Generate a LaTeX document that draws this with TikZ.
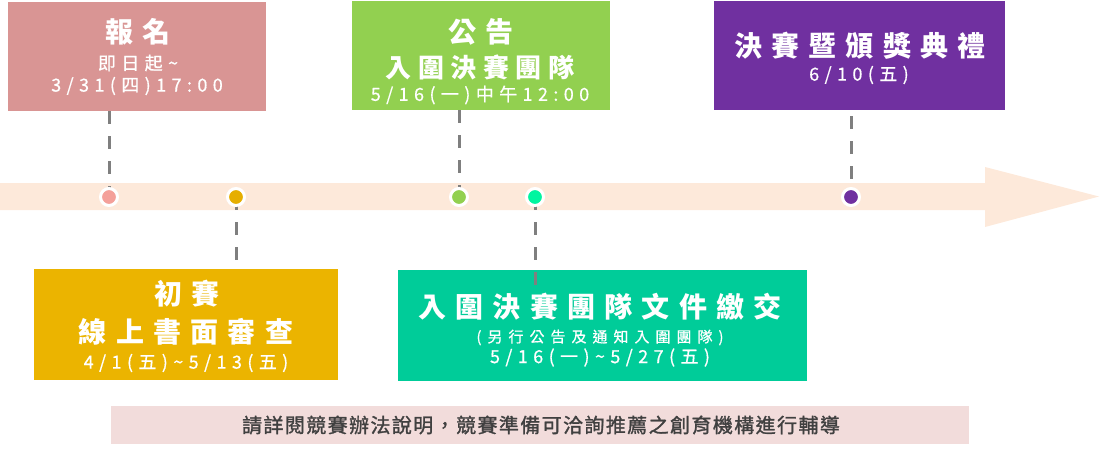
\documentclass[tikz,border=0pt]{standalone}
\usepackage{fontspec}
\usepackage{xcolor}
\newfontfamily\cjktitle[LetterSpace=33]{Noto Sans CJK TC}
\newfontfamily\cjkmid[LetterSpace=25]{Noto Sans CJK TC}
\newfontfamily\cjksub[LetterSpace=30,FakeBold=0.6]{Noto Sans CJK TC}
\newfontfamily\cjksmall[LetterSpace=40,FakeBold=0.6]{Noto Sans CJK TC}
\newfontfamily\cjknote[LetterSpace=7,FakeBold=1.4]{Noto Sans CJK TC}

\definecolor{bandpeach}{HTML}{FDE9DA}
\definecolor{signup}{HTML}{D99594}
\definecolor{prelim}{HTML}{EBB400}
\definecolor{notice}{HTML}{92D050}
\definecolor{submit}{HTML}{00CC99}
\definecolor{award}{HTML}{7030A0}
\definecolor{notebar}{HTML}{F2DCDB}
\definecolor{notetext}{HTML}{404040}
\definecolor{leadergray}{HTML}{7F7F7F}
\definecolor{dotsignup}{HTML}{F4A09A}
\definecolor{dotprelim}{HTML}{E6AE00}
\definecolor{dotsubmit}{HTML}{00F5A0}

\tikzset{
  stagebox/.style={rectangle, inner sep=0pt, draw=white, line width=0.6pt},
  dot/.style={circle, draw=white, line width=3pt, minimum size=17pt, inner sep=0pt},
  leader/.style={leadergray, line width=3pt, dash pattern=on 13pt off 12pt},
  txt/.style={text=white, inner sep=0pt, anchor=center},
  bigline/.style={txt, font=\cjktitle\bfseries\fontsize{28}{30}\selectfont},
  midline/.style={txt, font=\cjkmid\bfseries\fontsize{26}{28}\selectfont},
  subline/.style={txt, font=\cjksub\fontsize{18}{20}\selectfont},
  smallline/.style={txt, font=\cjksmall\fontsize{15}{17}\selectfont}
}

\begin{document}
\begin{tikzpicture}[x=1pt,y=-1pt]
\useasboundingbox (0,0) rectangle (1100,452);

%%%%%%%%% time band
\fill[bandpeach] (0,183) -- (985,183) -- (985,167) -- (1099,196.5)
  -- (985,227) -- (985,210) -- (0,210) -- cycle;

%%%%%%%%% stage boxes
\node[stagebox, fill=signup, minimum width=259pt, minimum height=110pt] (signup) at (136.5,56) {};
\node[stagebox, fill=prelim, minimum width=305pt, minimum height=112pt] (prelim) at (185.5,324) {};
\node[stagebox, fill=notice, minimum width=259pt, minimum height=110pt] (notice) at (480.5,55) {};
\node[stagebox, fill=submit, minimum width=410pt, minimum height=112pt] (submit) at (602,325) {};
\node[stagebox, fill=award, minimum width=292pt, minimum height=110pt] (award) at (859,55) {};

%%%%%%%%% texts
\node[bigline] (signupA) at (138,32) {報名};
\node[subline] (signupB) at (138,63) {即日起\char"7E};
\node[subline] (signupC) at (137,86) {3/31(四)17:00};

\node[bigline] (prelimA) at (187,293.5) {初賽};
\node[bigline] (prelimB) at (186,331.5) {線上書面審查};
\node[subline] (prelimC) at (186,363) {4/1(五)\char"7E 5/13(五)};

\node[bigline] (noticeA) at (481,31.5) {公告};
\node[midline] (noticeB) at (480,67.5) {入圍決賽團隊};
\node[subline] (noticeC) at (480,95) {5/16(一)中午12:00};

\node[bigline] (submitA) at (600,306.5) {入圍決賽團隊文件繳交};
\node[smallline] (submitB) at (600,337.5) {(另行公告及通知入圍團隊)};
\node[subline] (submitC) at (600,357.5) {5/16(一)\char"7E 5/27(五)};

\node[bigline] (awardA) at (860,45.5) {決賽暨頒獎典禮};
\node[subline] (awardB) at (859,75) {6/10(五)};

%%%%%%%%% timeline dots and leaders
\coordinate (d1) at (109,197);
\coordinate (d2) at (236,197);
\coordinate (d3) at (459,197);
\coordinate (d4) at (535,197);
\coordinate (d5) at (851,197);
\coordinate (submitEnd) at (535,290);

\draw[leader] (signup.south -| d1) -- (d1);
\draw[leader] (d2) -- (prelim.north -| d2);
\draw[leader] (notice.south -| d3) -- (d3);
\draw[leader] (d4) -- (submitEnd);
\draw[leader] ([yshift=-6pt]award.south -| d5) -- (d5);

\node[dot, fill=dotsignup] (dot1) at (d1) {};
\node[dot, fill=dotprelim] (dot2) at (d2) {};
\node[dot, fill=notice] (dot3) at (d3) {};
\node[dot, fill=dotsubmit] (dot4) at (d4) {};
\node[dot, fill=award] (dot5) at (d5) {};

%%%%%%%%% note bar
\node[rectangle, fill=notebar, minimum width=858pt, minimum height=38pt, inner sep=0pt] (note) at (540,425) {};
\node[inner sep=0pt, text=notetext, font=\cjknote\fontsize{20}{22}\selectfont] (noteT) at (541,425)
  {請詳閱競賽辦法說明，競賽準備可洽詢推薦之創育機構進行輔導};

\end{tikzpicture}
\end{document}
